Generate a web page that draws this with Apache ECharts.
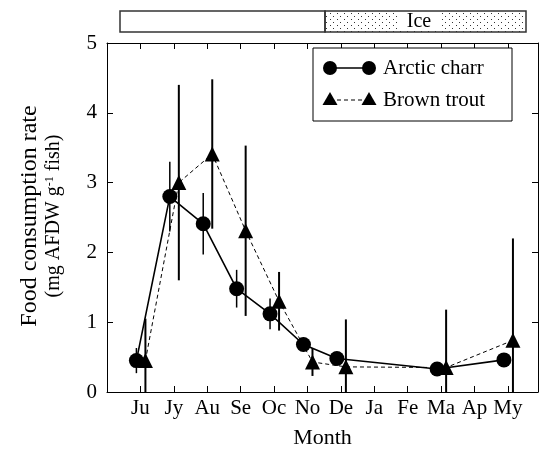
<!DOCTYPE html>
<html>
<head>
<meta charset="utf-8">
<script src="https://cdn.jsdelivr.net/npm/echarts@6/dist/echarts.min.js"></script>
<style>html,body{margin:0;padding:0;background:#fff}#c{width:542px;height:449px}</style>
</head>
<body>
<div id="c"></div>
<script>
const months = ['Ju','Jy','Au','Se','Oc','No','De','Ja','Fe','Ma','Ap','My'];
const yTicks = [0,1,2,3,4,5];

const charrMonth = [0,1,2,3,4,5,6,9,11];
const charrMean  = [0.45, 2.80, 2.41, 1.48, 1.12, 0.68, 0.48, 0.33, 0.46];
const charrErr   = [0.18, 0.50, 0.44, 0.27, 0.22, 0.10, 0.08, 0.05, 0.08];

const troutMonth = [0,1,2,3,4,5,6,9,11];
const troutMean  = [0.45, 3.00, 3.41, 2.31, 1.30, 0.43, 0.36, 0.35, 0.74];
const troutErr   = [0.60, 1.40, 1.07, 1.22, 0.42, 0.20, 0.68, 0.83, 1.46];

const FONT = 'Liberation Serif';
const charrShift = -0.12, troutShift = 0.15;

function pts(mIdx, mean, shift){ return mIdx.map((m,i)=>[m+shift, mean[i]]); }
function errs(mIdx, mean, err, shift){ return mIdx.map((m,i)=>[m+shift, Math.max(0, mean[i]-err[i]), mean[i]+err[i]]); }

function errRender(width){
  return function(params, api){
    const a = api.coord([api.value(0), api.value(1)]);
    const b = api.coord([api.value(0), api.value(2)]);
    return {type:'line', shape:{x1:a[0],y1:a[1],x2:b[0],y2:b[1]}, style:{stroke:'#000', lineWidth:width}};
  };
}

const pc = document.createElement('canvas');
pc.width = 7; pc.height = 6;
const pctx = pc.getContext('2d');
pctx.fillStyle = '#333';
pctx.fillRect(1,1,1,1);
pctx.fillRect(4,4,1,1);

const chart = echarts.init(document.getElementById('c'), null, {renderer:'canvas'});
const axisLine = {show:true, onZero:false, lineStyle:{color:'#000', width:1}};
const tick = {show:true, inside:true, length:6, lineStyle:{color:'#000'}};
chart.setOption({
  animation:false,
  backgroundColor:'#fff',
  grid:{left:107, right:4, top:43, bottom:57, outerBoundsMode:'none', containLabel:false},
  xAxis:[{
    type:'value', min:-1, max:11.9, interval:1,
    axisLine:axisLine, splitLine:{show:false}, axisTick:tick,
    axisLabel:{formatter:v=> (v>=0 && months[v]!==undefined) ? months[v] : '', color:'#000', fontFamily:FONT, fontSize:21, margin:6, showMaxLabel:false},
    name:'Month', nameLocation:'middle', nameGap:35,
    nameTextStyle:{color:'#000', fontFamily:FONT, fontSize:22}
  },{
    type:'value', position:'top', min:-1, max:11.9, interval:1,
    axisLine:axisLine, splitLine:{show:false}, axisTick:tick,
    axisLabel:{show:false}
  }],
  yAxis:[{
    type:'value', min:0, max:5, interval:1,
    axisLine:axisLine, splitLine:{show:false}, axisTick:tick,
    axisLabel:{formatter:v=> yTicks.includes(v)? String(v):'', color:'#000', fontFamily:FONT, fontSize:21, margin:10}
  },{
    type:'value', position:'right', min:0, max:5, interval:1,
    axisLine:axisLine, splitLine:{show:false}, axisTick:tick,
    axisLabel:{show:false}
  }],
  series:[
    {type:'custom', z:1, clip:true, renderItem:errRender(1.5), data:errs(charrMonth, charrMean, charrErr, charrShift)},
    {type:'custom', z:1, clip:true, renderItem:errRender(2), data:errs(troutMonth, troutMean, troutErr, troutShift)},
    {type:'line', z:3, data:pts(troutMonth, troutMean, troutShift), symbol:'triangle', symbolSize:15,
      lineStyle:{color:'#000', width:1, type:[4,3]}, itemStyle:{color:'#000'}},
    {type:'line', z:4, data:pts(charrMonth, charrMean, charrShift), symbol:'circle', symbolSize:15,
      lineStyle:{color:'#000', width:1.6}, itemStyle:{color:'#000'}}
  ],
  graphic:[
    {type:'rect', shape:{x:120,y:11,width:205,height:21}, style:{fill:'#fff', stroke:'#333', lineWidth:1.5}},
    {type:'rect', shape:{x:325,y:11,width:201,height:21}, style:{fill:{image:pc, repeat:'repeat'}, stroke:'#333', lineWidth:1.5}},
    {type:'rect', shape:{x:399,y:13,width:40,height:17}, style:{fill:'#fff'}},
    {type:'text', x:419, y:22, style:{text:'Ice', fill:'#000', font:'20px "Liberation Serif"', align:'center', verticalAlign:'middle'}},
    {type:'rect', shape:{x:313,y:48,width:199,height:73}, style:{fill:'#fff', stroke:'#000', lineWidth:1}, z:10},
    {type:'line', shape:{x1:330,y1:68,x2:369,y2:68}, style:{stroke:'#000', lineWidth:1.6}, z:11},
    {type:'circle', shape:{cx:330,cy:68,r:7}, style:{fill:'#000'}, z:11},
    {type:'circle', shape:{cx:369,cy:68,r:7}, style:{fill:'#000'}, z:11},
    {type:'text', x:383, y:68, style:{text:'Arctic charr', fill:'#000', font:'21px "Liberation Serif"', verticalAlign:'middle'}, z:11},
    {type:'line', shape:{x1:330,y1:100,x2:369,y2:100}, style:{stroke:'#000', lineWidth:1, lineDash:[4,3]}, z:11},
    {type:'polygon', shape:{points:[[330,92],[337.5,105],[322.5,105]]}, style:{fill:'#000'}, z:11},
    {type:'polygon', shape:{points:[[369,92],[376.5,105],[361.5,105]]}, style:{fill:'#000'}, z:11},
    {type:'text', x:383, y:100, style:{text:'Brown trout', fill:'#000', font:'21px "Liberation Serif"', verticalAlign:'middle'}, z:11},
    {type:'text', x:30, y:216, rotation:Math.PI/2,
      style:{text:'Food consumption rate', fill:'#000', font:'24px "Liberation Serif"', align:'center', verticalAlign:'middle'}},
    {type:'text', x:54, y:216, rotation:Math.PI/2,
      style:{text:'(mg AFDW g{sup|-1} fish)', fill:'#000', font:'20px "Liberation Serif"', align:'center', verticalAlign:'middle',
        rich:{sup:{fontSize:12, fontFamily:FONT, fill:'#000', padding:[0,0,9,0]}}}}
  ]
});
</script>
</body>
</html>
